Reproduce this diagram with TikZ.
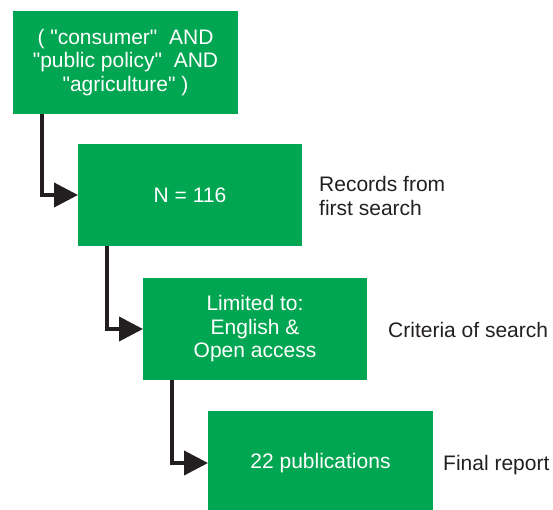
\documentclass[tikz,border=0pt]{standalone}
\usepackage{fontspec}
\setmainfont{Liberation Sans}[Ligatures=TeXOff]
\usetikzlibrary{arrows.meta}
\definecolor{boxgreen}{HTML}{00A651}
\definecolor{linedark}{HTML}{231F20}
\tikzset{
  x=1pt,y=1pt,
  greenbox/.style={fill=boxgreen, draw=none, text=white, align=center, inner sep=0pt, outer sep=0pt,
    minimum width=225pt, font=\fontsize{21}{23.5}\selectfont},
  sidelabel/.style={anchor=base west, align=left, inner sep=0pt, text=linedark, font=\fontsize{21}{24}\selectfont},
  flow/.style={draw=linedark, line width=4pt, -{Triangle[length=24pt,width=24pt]}}
}
\begin{document}
\begin{tikzpicture}
\useasboundingbox (0,0) rectangle (553,509);
\node[greenbox, minimum height=103pt] (b1) at (125.5,446.5) {( "consumer"\ \ AND\\ "public policy"\ \ AND\\ "agriculture" )};
\node[greenbox, minimum width=224pt, minimum height=102pt] (b2) at (190,314) {N = 116};
\node[greenbox, minimum width=224pt, minimum height=102pt] (b3) at (255,180) {Limited to:\\ English \&\\ Open access};
\node[greenbox, minimum height=104pt] (b4) at (320.5,46) {22 publications};
\node[sidelabel] (l2) at (319,293) {Records from\\ first search};
\node[sidelabel] (l3) at (388,172) {Criteria of search};
\node[sidelabel] (l4) at (443,39) {Final report};
\coordinate (s1) at (42,0);
\coordinate (s2) at (107,0);
\coordinate (s3) at (172,0);
\draw[flow] (b1.south -| s1) |- (b2.west);
\draw[flow] (b2.south -| s2) |- (b3.west);
\draw[flow] (b3.south -| s3) |- (b4.west);
\end{tikzpicture}
\end{document}
